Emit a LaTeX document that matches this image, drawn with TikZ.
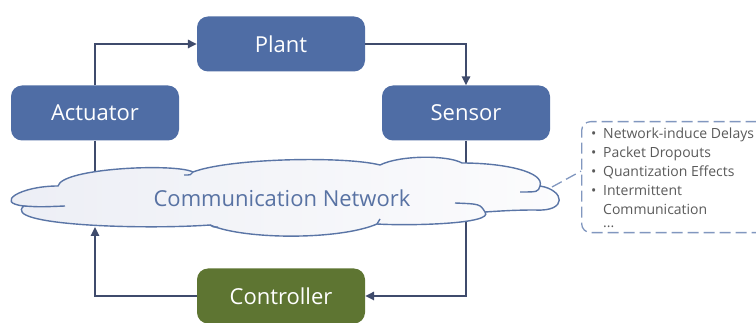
\documentclass[tikz,border=0pt]{standalone}
\usepackage{fontspec}
\setmainfont{Open Sans}
\usetikzlibrary{arrows.meta}

\definecolor{boxblue}{HTML}{4F6DA5}
\definecolor{boxgreen}{HTML}{5E7532}
\definecolor{wire}{HTML}{3F4B6C}
\definecolor{cloudedge}{HTML}{5A75A6}
\definecolor{cloudleft}{HTML}{ECEEF5}
\definecolor{cloudright}{HTML}{FCFCFD}
\definecolor{nettext}{HTML}{5872A3}
\definecolor{notegray}{HTML}{5A5A5A}
\definecolor{noteline}{HTML}{8197BF}

\begin{document}
\begin{tikzpicture}[x=1pt,y=-1pt,
  block/.style={rounded corners=11pt, minimum width=168pt, minimum height=55pt,
    inner sep=0pt, text=white, font=\fontsize{22}{26}\selectfont},
  bluebox/.style={block, fill=boxblue},
  greenbox/.style={block, fill=boxgreen},
  wireline/.style={draw=wire, line width=1.6pt},
  wirearrow/.style={wireline, -{Triangle[length=9pt,width=8.5pt]}},
  cloudline/.style={draw=cloudedge, line width=1.4pt},
  notedash/.style={draw=noteline, line width=1.3pt, dash pattern=on 11pt off 5pt},
]
\clip (0,0) rectangle (756,323);

% blocks of the loop
\node[bluebox]  (plant)    at (281,44)  {Plant};
\node[bluebox]  (actuator) at (95,113)  {Actuator};
\node[bluebox]  (sensor)   at (466,113) {Sensor};
\node[greenbox] (ctrl)     at (281,296) {Controller};

% where the vertical wires meet the cloud
\coordinate (netTopL) at (95,172);
\coordinate (netBotL) at (95,227);
\coordinate (cloudR)  at (552,187);

% loop wiring
\draw[wirearrow] (actuator.north) |- (plant.west);
\draw[wirearrow] (plant.east) -| (sensor.north);
\draw[wirearrow] (sensor.south) |- (ctrl.east);
\draw[wirearrow] (ctrl.west) -| (netBotL);
\draw[wireline]  (actuator.south) -- (netTopL);

% communication network cloud
\path[cloudline, left color=cloudleft, right color=cloudright]
  (24,206)
  .. controls (-6,203) and (20,186) .. (58,186)
  .. controls (62,168) and (175,163) .. (193,172)
  .. controls (230,158) and (345,156) .. (380,165)
  .. controls (400,155) and (448,155) .. (462,163)
  .. controls (505,163) and (545,172) .. (540,186)
  .. controls (565,190) and (568,212) .. (535,210)
  .. controls (515,210) and (500,211) .. (485,212)
  .. controls (495,224) and (410,226) .. (377,224)
  .. controls (340,240) and (245,240) .. (210,225)
  .. controls (140,230) and (0,225) .. (24,206) -- cycle;
% inner lobe edges
\draw[cloudline] (24,206) .. controls (40,207) .. (65,206);
\draw[cloudline] (193,172) .. controls (191,175) .. (184,175);
\draw[cloudline] (540,186) .. controls (538,192) .. (520,192);
\draw[cloudline] (485,212) .. controls (480,204) .. (455,203);
\draw[cloudline] (377,224) .. controls (378,222) .. (380,219);
\draw[cloudline] (210,225) .. controls (213,227) .. (218,227);

\node[text=nettext, font=\fontsize{22}{26}\selectfont] (net) at (282,198)
  {Communication Network};

% list of network-induced effects
\node[notedash, rounded corners=9pt, anchor=north west,
  minimum width=200pt, minimum height=111pt] (notebox) at (581,121) {};
\draw[notedash] (cloudR) -- ([yshift=6pt]notebox.west);
\node[anchor=north west, align=left, inner sep=0pt, text=notegray,
  font=\fontsize{14}{19}\selectfont] (notes) at (591,127.5)
  {\makebox[12pt][l]{•}Network-induce Delays\\
   \makebox[12pt][l]{•}Packet Dropouts\\
   \makebox[12pt][l]{•}Quantization Effects\\
   \makebox[12pt][l]{•}Intermittent\\
   \makebox[12pt][l]{}Communication\\[-6pt]
   \makebox[12pt][l]{}...};
\end{tikzpicture}
\end{document}
